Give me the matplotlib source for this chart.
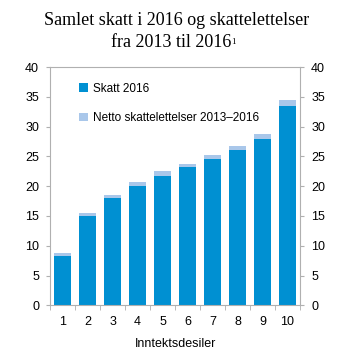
import matplotlib.pyplot as plt
import numpy as np

# data
desiler = ['1', '2', '3', '4', '5', '6', '7', '8', '9', '10']
skatt_2016 = [8.3, 15.0, 18.0, 20.1, 21.7, 23.2, 24.5, 26.0, 28.0, 33.5]
netto_lettelser = [0.5, 0.5, 0.5, 0.6, 0.8, 0.6, 0.8, 0.8, 0.8, 1.0]

blue = '#0090d2'
light = '#a9c7ea'
grey = '#b0b0b0'

plt.rcParams['font.family'] = 'Liberation Sans'

fig = plt.figure(figsize=(3.53, 3.53), dpi=100)
ax = fig.add_axes([0.142, 0.135, 0.708, 0.675])

x = np.arange(len(desiler))
ax.bar(x, skatt_2016, width=0.68, color=blue, label='Skatt 2016')
ax.bar(x, netto_lettelser, width=0.68, bottom=skatt_2016, color=light,
       label='Netto skattelettelser 2013–2016')

ax.set_xlim(-0.5, len(desiler) - 0.5)
ax.set_ylim(0, 40)
ax.set_yticks(range(0, 41, 5))
ax.set_xticks(x)
ax.set_xticklabels(desiler)
ax.set_xticks(np.arange(-0.5, len(desiler), 1), minor=True)
ax.tick_params(axis='x', which='major', length=0, labelsize=9, pad=8)
ax.tick_params(axis='x', which='minor', length=3.5, color=grey, direction='out')
ax.tick_params(axis='y', length=3, color=grey, labelsize=9, labelright=True,
               right=True, direction='out', pad=5)
for s in ax.spines.values():
    s.set_color(grey)
    s.set_linewidth(0.8)

ax.set_xlabel('Inntektsdesiler', fontsize=9, labelpad=7)

ax.legend(loc='upper left', bbox_to_anchor=(0.116, 0.935), frameon=False,
          fontsize=8.5, handlelength=0.75, handleheight=0.75,
          handletextpad=0.45, labelspacing=1.5, borderpad=0, borderaxespad=0)

fig.text(0.5, 0.943, 'Samlet skatt i 2016 og skattelettelser',
         ha='center', va='center', fontsize=13, family='Liberation Serif')
t2 = fig.text(0.485, 0.881, 'fra 2013 til 2016',
              ha='center', va='center', fontsize=13, family='Liberation Serif')
ax.annotate('1', xy=(1, 1), xycoords=t2, xytext=(0, -3),
            textcoords='offset points', ha='left', va='top',
            fontsize=6.5, family='Liberation Serif', annotation_clip=False)

fig.savefig('out.png', dpi=100)
